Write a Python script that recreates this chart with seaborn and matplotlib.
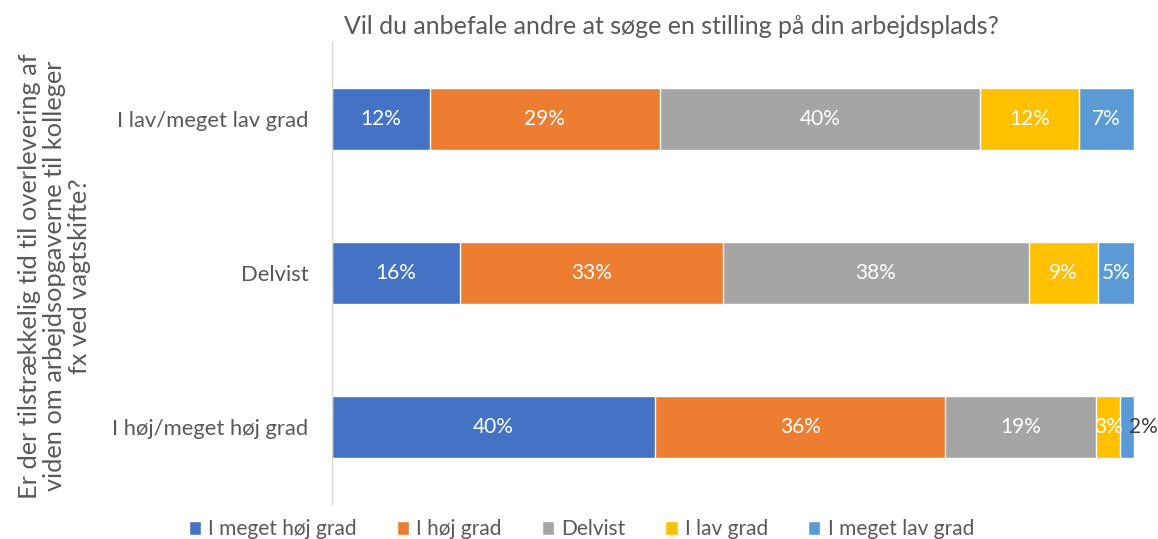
import pandas as pd
import matplotlib.pyplot as plt
import seaborn as sns

# rows (top to bottom) and answer categories (stack order, left to right)
rows = ["I lav/meget lav grad", "Delvist", "I høj/meget høj grad"]
answers = ["I meget høj grad", "I høj grad", "Delvist", "I lav grad", "I meget lav grad"]

# shares in percent
meget_hoej = [12.2, 16.0, 40.3]
hoej = [28.7, 32.7, 36.2]
delvist = [39.9, 38.2, 18.8]
lav = [12.3, 8.6, 3.0]
meget_lav = [6.9, 4.6, 1.7]

# rounded labels as printed on the bars
labels = [
    ["12%", "29%", "40%", "12%", "7%"],
    ["16%", "33%", "38%", "9%", "5%"],
    ["40%", "36%", "19%", "3%", "2%"],
]

colors = ["#4472C4", "#ED7D31", "#A5A5A5", "#FFC000", "#5B9BD5"]
TXT = "#595959"

df = pd.DataFrame({"row": rows})
for name, vals in zip(answers, [meget_hoej, hoej, delvist, lav, meget_lav]):
    df[name] = vals
cum = df[answers].cumsum(axis=1)

sns.set_theme(style="white")
plt.rcParams["font.family"] = ["Lato", "DejaVu Sans"]

fig = plt.figure(figsize=(11.58, 5.39), dpi=100)
ax = fig.add_axes([0.2867, 0.065, 0.6925, 0.857])

# stacked bars: draw cumulative totals from the right-most segment backwards
for name, col in reversed(list(zip(answers, colors))):
    sns.barplot(x=cum[name], y=df["row"], order=rows, orient="h", color=col,
                saturation=1, width=0.4, edgecolor="white", linewidth=1,
                label=name, ax=ax)
handles, hl = ax.get_legend_handles_labels()
if ax.get_legend() is not None:
    ax.get_legend().remove()

# segment labels
for i, r in enumerate(rows):
    for j, name in enumerate(answers):
        v = df.loc[i, name]
        mid = cum.loc[i, name] - v / 2
        if v < 2.5:
            ax.text(cum.loc[i, name] - 0.6, i, labels[i][j], ha="left", va="center",
                    fontsize=15, color="#404040")
        else:
            ax.text(mid, i, labels[i][j], ha="center", va="center",
                    fontsize=15, color="white")

ax.set_xlim(0, 100)
ax.set_ylim(2.5, -0.5)
ax.set_xlabel("")
ax.set_ylabel("")
ax.set_xticks([])
ax.tick_params(axis="y", length=0, pad=17, labelsize=15.8, labelcolor=TXT)
for s in ["top", "right", "bottom"]:
    ax.spines[s].set_visible(False)
ax.spines["left"].set_color("#D9D9D9")
ax.spines["left"].set_linewidth(1)

fig.text(0.58, 0.95, "Vil du anbefale andre at søge en stilling på din arbejdsplads?",
         ha="center", va="center", fontsize=18, color=TXT)
fig.text(0.047, 0.488,
         "Er der tilstrækkelig tid til overlevering af\nviden om arbejdsopgaverne til kolleger\nfx ved vagtskifte?",
         ha="center", va="center", rotation=90, multialignment="center",
         fontsize=18.3, color=TXT, linespacing=1.1)

order = [hl.index(a) for a in answers]
fig.legend([handles[k] for k in order], answers, loc="center", bbox_to_anchor=(0.502, 0.018),
           ncol=5, frameon=False, fontsize=15, labelcolor=TXT, handlelength=0.6,
           handleheight=0.6, handletextpad=0.35, columnspacing=1.9)

plt.savefig("out.png", dpi=100)
plt.close()
